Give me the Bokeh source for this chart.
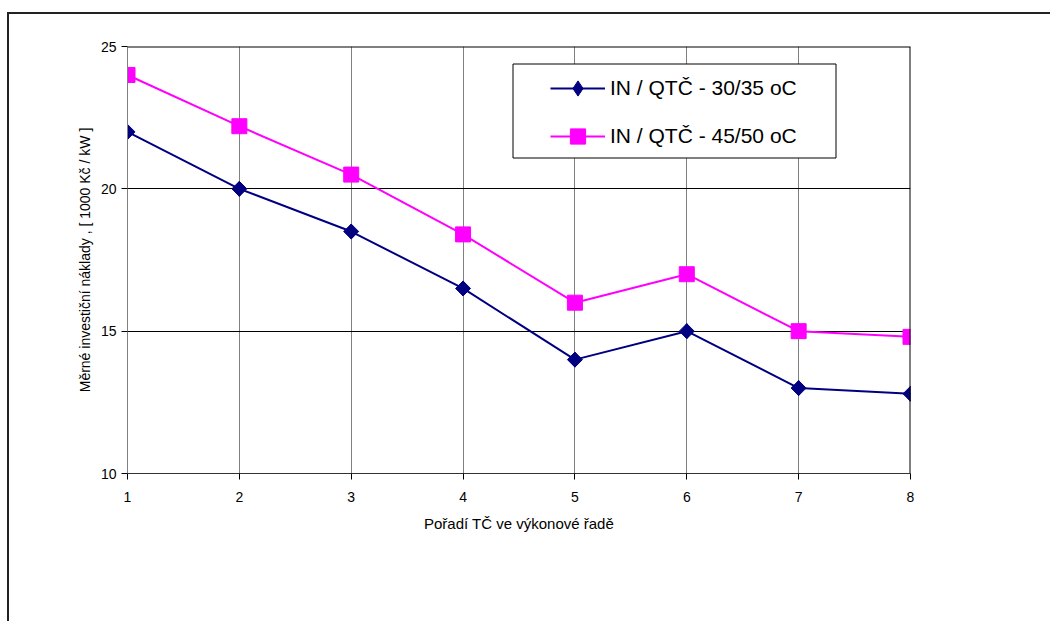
from bokeh.plotting import figure
from bokeh.models import (FixedTicker, Span, BoxAnnotation, Legend, LegendItem, Range1d)
from bokeh.embed import file_html
from bokeh.resources import INLINE
import math

# data
order = [1, 2, 3, 4, 5, 6, 7, 8]
in_30_35 = [22.0, 20.0, 18.5, 16.5, 14.0, 15.0, 13.0, 12.8]
in_45_50 = [24.0, 22.2, 20.5, 18.4, 16.0, 17.0, 15.0, 14.8]
x_ticks = [1, 2, 3, 4, 5, 6, 7, 8]
y_ticks = [10, 15, 20, 25]
label_1 = "IN / QTČ - 30/35 oC"
label_2 = "IN / QTČ - 45/50 oC"
x_title = "Pořadí TČ ve výkonové řadě"
y_title = "Měrné investiční náklady , [ 1000 Kč / kW ]"

FONT = "Liberation Sans"
W, H = 1050, 621

p = figure(width=W, height=H, output_backend="svg", toolbar_location=None,
           x_range=Range1d(1, 8), y_range=Range1d(10, 25),
           min_border_left=127, min_border_right=140,
           min_border_top=46, min_border_bottom=148)
p.outline_line_color = None
p.background_fill_color = "white"
p.border_fill_alpha = 0
# outer chart border (top and left edges of the chart area box)
p.styles = {
    "background-color": "white",
    "background-image": "linear-gradient(#222222, #222222), linear-gradient(#222222, #222222)",
    "background-size": "100% 2px, 2px 100%",
    "background-position": "8px 12px, 7px 12px",
    "background-repeat": "no-repeat",
}

# axes
p.xaxis.ticker = FixedTicker(ticks=x_ticks)
p.yaxis.ticker = FixedTicker(ticks=y_ticks)
p.xaxis.minor_tick_line_color = None
p.yaxis.minor_tick_line_color = None
for ax in (p.xaxis, p.yaxis):
    ax.major_tick_in = 0
    ax.major_tick_out = 6
    ax.major_tick_line_color = "black"
    ax.major_label_text_font = FONT
    ax.major_label_text_font_size = "14px"
    ax.major_label_text_color = "black"
    ax.axis_label_text_font = FONT
    ax.axis_label_text_font_style = "normal"
    ax.axis_label_text_color = "black"
p.xaxis.axis_label_text_font_size = "15px"
p.yaxis.axis_label_text_font_size = "14px"
p.xaxis.axis_line_color = "#333333"
p.yaxis.axis_line_color = "#808080"
p.xaxis.major_label_standoff = 12
p.yaxis.major_label_standoff = 5
p.xaxis.axis_label = x_title
p.yaxis.axis_label = y_title
p.xaxis.axis_label_standoff = 10
p.yaxis.axis_label_standoff = 5

# grids
p.xgrid.ticker = FixedTicker(ticks=x_ticks)
p.ygrid.ticker = FixedTicker(ticks=y_ticks)
p.xgrid.grid_line_color = "#808080"
p.xgrid.grid_line_width = 1
p.ygrid.grid_line_color = "black"
p.ygrid.grid_line_width = 1

p.add_layout(Span(location=y_ticks[-1], dimension="width", line_color="black", line_width=2))
p.add_layout(Span(location=x_ticks[-1], dimension="height", line_color="black", line_width=2))

# series
navy = "#000080"
magenta = "#FF00FF"
l1 = p.line(order, in_30_35, line_color=navy, line_width=2)
d1 = p.scatter(order, in_30_35, marker="diamond", size=15,
               fill_color=navy, line_color=navy)
m1 = p.scatter(order, in_30_35, marker="square", angle=math.pi / 4, size=10.6,
               fill_color=navy, line_color=navy)
l2 = p.line(order, in_45_50, line_color=magenta, line_width=2)
m2 = p.scatter(order, in_45_50, marker="square", size=15,
               fill_color=magenta, line_color=magenta)

# legend box
p.add_layout(BoxAnnotation(left=512.5, right=835.5, top=63.5, bottom=157.5,
                           left_units="canvas", right_units="canvas",
                           top_units="canvas", bottom_units="canvas",
                           fill_color="white", fill_alpha=1,
                           line_color="black", line_alpha=1, line_width=1))

legend = Legend(items=[LegendItem(label=label_1, renderers=[l1, d1]),
                       LegendItem(label=label_2, renderers=[l2, m2])],
                location=(423, 318), orientation="vertical", margin=0,
                padding=10, spacing=10, glyph_width=55, glyph_height=38,
                label_height=38, label_standoff=5,
                label_text_font=FONT, label_text_font_size="21px",
                label_text_color="black",
                background_fill_alpha=0, border_line_color=None)
p.add_layout(legend)

open("out.html", "w").write(file_html(p, INLINE))
